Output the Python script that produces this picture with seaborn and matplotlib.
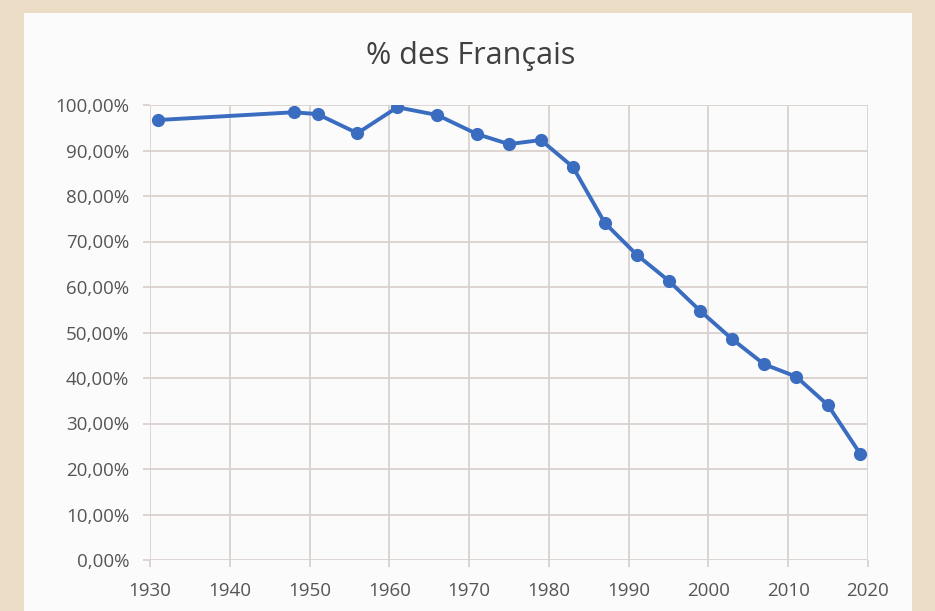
import matplotlib
matplotlib.use("Agg")
import matplotlib.pyplot as plt
import matplotlib.ticker as mticker
from matplotlib.patches import Rectangle
import pandas as pd
import seaborn as sns

# values
years = [1931, 1948, 1951, 1956, 1961, 1966, 1971, 1975, 1979, 1983,
         1987, 1991, 1995, 1999, 2003, 2007, 2011, 2015, 2019]
share = [96.7, 98.4, 98.0, 93.8, 99.5, 97.8, 93.6, 91.4, 92.3, 86.4,
         74.1, 67.1, 61.4, 54.7, 48.5, 43.0, 40.3, 34.0, 23.4]
x_ticks = list(range(1930, 2030, 10))
y_ticks = list(range(0, 110, 10))
title = "% des Français"

df = pd.DataFrame({"annee": years, "part": share})

sns.set_style("whitegrid")
plt.rcParams["font.family"] = ["Open Sans", "DejaVu Sans"]

fig = plt.figure(figsize=(9.35, 6.11), dpi=100)
fig.patch.set_facecolor("#EBDCC5")
# white chart panel, behind the axes
panel = Rectangle((24 / 935, 0), 888 / 935, 1 - 13 / 611,
                  transform=fig.transFigure, facecolor="#FBFBFB",
                  edgecolor="none", zorder=-10)
fig.add_artist(panel)

ax = fig.add_axes([150 / 935, 1 - 560 / 611, 718 / 935, 455 / 611])
ax.set_facecolor("#FBFBFB")

sns.lineplot(data=df, x="annee", y="part", ax=ax, color="#3A6CC0",
             linewidth=2.8, marker="o", markersize=9.5, markeredgewidth=0)

ax.set_xlim(1930, 2020)
ax.set_ylim(0, 100)
ax.set_xticks(x_ticks)
ax.set_yticks(y_ticks)
ax.yaxis.set_major_formatter(mticker.FuncFormatter(
    lambda v, p: f"{v:.2f}".replace(".", ",") + "%"))
ax.grid(True, color="#D9D1CD", linewidth=1.3)
for s in ax.spines.values():
    s.set_visible(False)
ax.tick_params(axis="both", labelsize=13.5, labelcolor="#555555",
               color="#D9D1CD", length=5, width=1.3, direction="out",
               bottom=True, left=True)
ax.tick_params(axis="y", pad=10)
ax.tick_params(axis="x", pad=11)
ax.set_xlabel("")
ax.set_ylabel("")

fig.text(471 / 935, 1 - 56 / 611, title, ha="center", va="center",
         fontsize=22, color="#404040")

fig.savefig("out.png", dpi=100, facecolor=fig.get_facecolor())
